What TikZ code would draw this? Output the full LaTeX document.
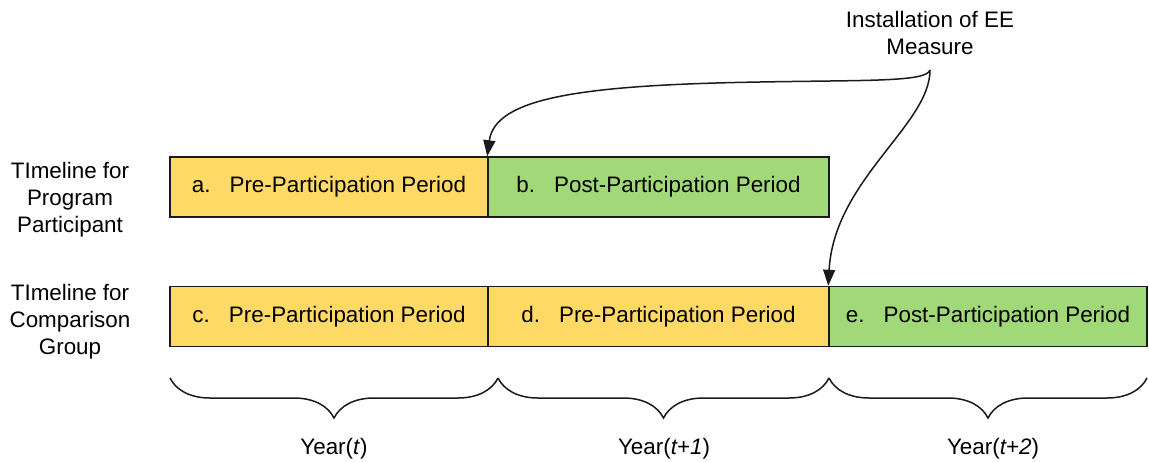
\documentclass[tikz,border=0pt]{standalone}
\usepackage{fontspec}
\setmainfont{Liberation Sans}
\usepackage{tikz}
\usetikzlibrary{arrows.meta, decorations.pathreplacing}
\definecolor{tpre}{HTML}{FFD966}
\definecolor{tpost}{HTML}{A2D978}
\definecolor{tline}{HTML}{1A1A1A}
\tikzset{
  prebox/.style={draw=tline, fill=tpre, line width=0.75pt, inner sep=0pt,
                 minimum height=30pt, font=\fontsize{11.2}{13}\selectfont},
  postbox/.style={draw=tline, fill=tpost, line width=0.75pt, inner sep=0pt,
                  minimum height=30pt, font=\fontsize{11.2}{13}\selectfont},
  lbl/.style={align=center, inner sep=0pt, font=\fontsize{11.2}{13.5}\selectfont},
  arr/.style={-{Triangle[length=8pt,width=6pt]}, line width=0.75pt, tline},
  yearbrace/.style={decorate, decoration={brace, mirror, amplitude=20pt},
                    line width=0.75pt, tline},
}
\newcommand{\gap}{\hspace{0.85em}}

\begin{document}
\begin{tikzpicture}[x=0.5pt, y=-0.5pt]
    \useasboundingbox (0,0) rectangle (1149,461);

    % row labels
    \node[lbl] (rowp) at (70,200) {TImeline for\\Program\\Participant};
    \node[lbl] (rowc) at (70,322) {TImeline for\\Comparison\\Group};

    % program participant
    \node[prebox, minimum width=159pt] (a) at (329,187) {a.\gap Pre-Participation Period};
    \node[postbox, minimum width=170.5pt] (b) at (658.5,187) {b.\gap Post-Participation Period};

    % comparison group
    \node[prebox, minimum width=159pt] (c) at (329,316.5) {c.\gap Pre-Participation Period};
    \node[prebox, minimum width=170.5pt] (d) at (658.5,316.5) {d.\gap Pre-Participation Period};
    \node[postbox, minimum width=159pt] (e) at (988,316.5) {e.\gap Post-Participation Period};

    % installation
    \node[lbl] (inst) at (930,33) {Installation of EE\\Measure};
    \coordinate (src) at (930,70);

    \draw[arr] (src) .. controls (926,82) and (870,80) .. (760,82)
                     .. controls (580,85) and (495,98) .. (b.north west);
    \draw[arr] (src) .. controls (930,125) and (834,180) .. (e.north west);

    % years
    \draw[yearbrace] (170,378) -- (498,378);
    \draw[yearbrace] (498,378) -- (829,378);
    \draw[yearbrace] (829,378) -- (1147,378);

    \node[lbl] (y0) at (334,449) {Year(\textit{t})};
    \node[lbl] (y1) at (664,449) {Year(\textit{t+1})};
    \node[lbl] (y2) at (993,449) {Year(\textit{t+2})};
\end{tikzpicture}
\end{document}
